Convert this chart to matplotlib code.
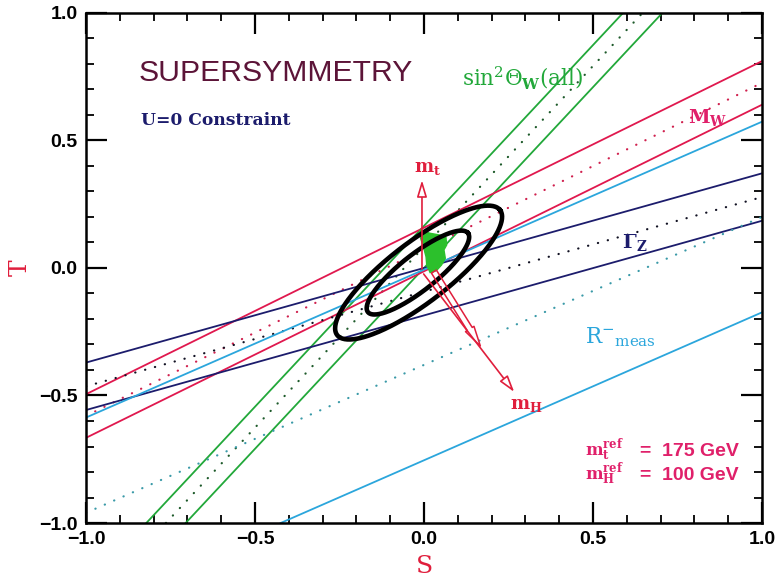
import numpy as np
import matplotlib
matplotlib.use('Agg')
from matplotlib import pyplot as plt
from matplotlib.patches import Polygon, FancyArrowPatch
from matplotlib.ticker import MultipleLocator

plt.rcParams['mathtext.fontset'] = 'dejavuserif'

# constraint bands: T = slope * S + intercept (upper edge, centre, lower edge)
band_names = ['sin2', 'MW', 'GammaZ', 'Rmeas']
band_slopes = [1.418, 0.653, 0.371, 0.580]
band_upper = [0.165, 0.158, 0.000, -0.0065]
band_centre = [0.083, 0.073, -0.093, -0.380]
band_lower = [0.000, -0.013, -0.186, -0.754]
band_colors = ['#22a83a', '#e0184e', '#1c1c6c', '#2ba6dc']
dot_colors = ['#1d5a2a', '#d0204e', '#111122', '#3a9aa8']

# fit contours (centre, semi-major vector, semi-minor vector)
ell_centre = [(-0.016, -0.018), (-0.018, -0.018)]
ell_major = [(0.241, 0.245), (0.148, 0.155)]
ell_minor = [(0.054, -0.094), (0.033, -0.055)]

# supersymmetric model region
blob_S = [-0.012, 0.018, 0.047, 0.065, 0.067, 0.059, 0.063, 0.052, 0.037,
          0.018, 0.008, 0.006, -0.002, -0.010]
blob_T = [0.149, 0.136, 0.129, 0.120, 0.090, 0.071, 0.038, 0.012, -0.010,
          -0.018, 0.012, 0.044, 0.084, 0.116]

# arrows from the reference point
mt_tip = (-0.006, 0.355)
mh_tip = (0.272, -0.495)
mh_wide_tip = (0.171, -0.315)
origin = (-0.006, -0.015)

# reference masses
ref_labels = [r'$\mathbf{m_t^{ref}}$', r'$\mathbf{m_H^{ref}}$']
ref_values = ['=  175 GeV', '=  100 GeV']

red = '#e01e3c'
pink = '#e0206a'

fig = plt.figure(figsize=(7.77, 5.87), dpi=100)
ax = fig.add_axes([0.1107, 0.109, 0.87, 0.869])

for i in range(len(band_names)):
    for b in (band_upper[i], band_lower[i]):
        ax.axline((0, b), slope=band_slopes[i], color=band_colors[i], lw=1.3)
    ax.axline((0, band_centre[i]), slope=band_slopes[i], color=dot_colors[i],
              lw=1.6, linestyle=(0, (0.1, 4.5)), dash_capstyle='round')

ax.add_patch(Polygon(np.column_stack([blob_S, blob_T]), closed=True,
                     facecolor='#2cc02c', edgecolor='#2cc02c', lw=1, zorder=4))

t = np.linspace(0, 2 * np.pi, 300)
for c, a, b in zip(ell_centre, ell_major, ell_minor):
    xs = c[0] + a[0] * np.cos(t) + b[0] * np.sin(t)
    ys = c[1] + a[1] * np.cos(t) + b[1] * np.sin(t)
    ax.plot(xs, ys, color='black', lw=3.3, zorder=5)

ax.annotate('', xy=mt_tip, xytext=origin,
            arrowprops=dict(arrowstyle='-|>,head_length=1.0,head_width=0.3',
                            fc='white', ec=red, lw=1.2), zorder=6)
ax.annotate('', xy=mh_tip, xytext=origin,
            arrowprops=dict(arrowstyle='-|>,head_length=1.0,head_width=0.3',
                            fc='white', ec=red, lw=1.2), zorder=6)
ax.add_patch(FancyArrowPatch((0.025, -0.005), mh_wide_tip,
                             arrowstyle='simple,head_length=1.2,head_width=0.6,tail_width=0.35',
                             mutation_scale=12, fill=False, ec=red, lw=1.1, zorder=6))

ax.set_xlim(-1, 1)
ax.set_ylim(-1, 1)
ax.xaxis.set_major_locator(MultipleLocator(0.5))
ax.yaxis.set_major_locator(MultipleLocator(0.5))
ax.xaxis.set_minor_locator(MultipleLocator(0.1))
ax.yaxis.set_minor_locator(MultipleLocator(0.1))
ax.tick_params(which='both', direction='in', top=True, right=True)
ax.tick_params(which='major', length=15, width=1.6, pad=6)
ax.tick_params(which='minor', length=6, width=1.3)
for sp in ax.spines.values():
    sp.set_linewidth(1.8)
for lab in ax.get_xticklabels() + ax.get_yticklabels():
    lab.set_fontfamily('Liberation Sans')
    lab.set_fontweight('bold')
    lab.set_fontsize(14)

ax.set_xlabel('S', color=red, fontfamily='DejaVu Serif', fontsize=18, labelpad=5)
ax.set_ylabel('T', color=red, fontfamily='DejaVu Serif', fontsize=18)
ax.yaxis.set_label_coords(-0.08, 0.5)

ax.text(-0.843, 0.765, 'SUPERSYMMETRY', color='#5c1438', fontfamily='Liberation Sans',
        fontsize=21.7, va='center')
ax.text(-0.837, 0.58, 'U=0 Constraint', color='#1c1c6c', fontfamily='DejaVu Serif',
        fontweight='bold', fontsize=12.3, va='center')
ax.text(0.112, 0.748, r'$\mathrm{sin^2\Theta_\mathbf{W}(all)}$', color='#22a83a',
        fontsize=15.5, va='center')
ax.text(0.78, 0.588, r'$\mathbf{M_W}$', color=pink, fontsize=14, va='center')
ax.text(-0.03, 0.39, r'$\mathbf{m_t}$', color=red, fontsize=13, va='center')
ax.text(0.585, 0.10, r'$\mathbf{\Gamma_Z}$', color='#1c1c6c', fontsize=14, va='center')
ax.text(0.476, -0.27, r'$\mathrm{R^{-}}_{\mathrm{meas}}$', color='#2ba6dc',
        fontsize=15.5, va='center')
ax.text(0.255, -0.537, r'$\mathbf{m_H}$', color=red, fontsize=13, va='center')
for k, (lab, val) in enumerate(zip(ref_labels, ref_values)):
    y = -0.737 - 0.094 * k
    ax.text(0.476, y, lab, color=pink, fontsize=12, va='baseline')
    ax.text(0.64, y, val, color=pink, fontfamily='Liberation Sans',
            fontweight='bold', fontsize=14, va='baseline')

plt.savefig('out.png', dpi=100)
